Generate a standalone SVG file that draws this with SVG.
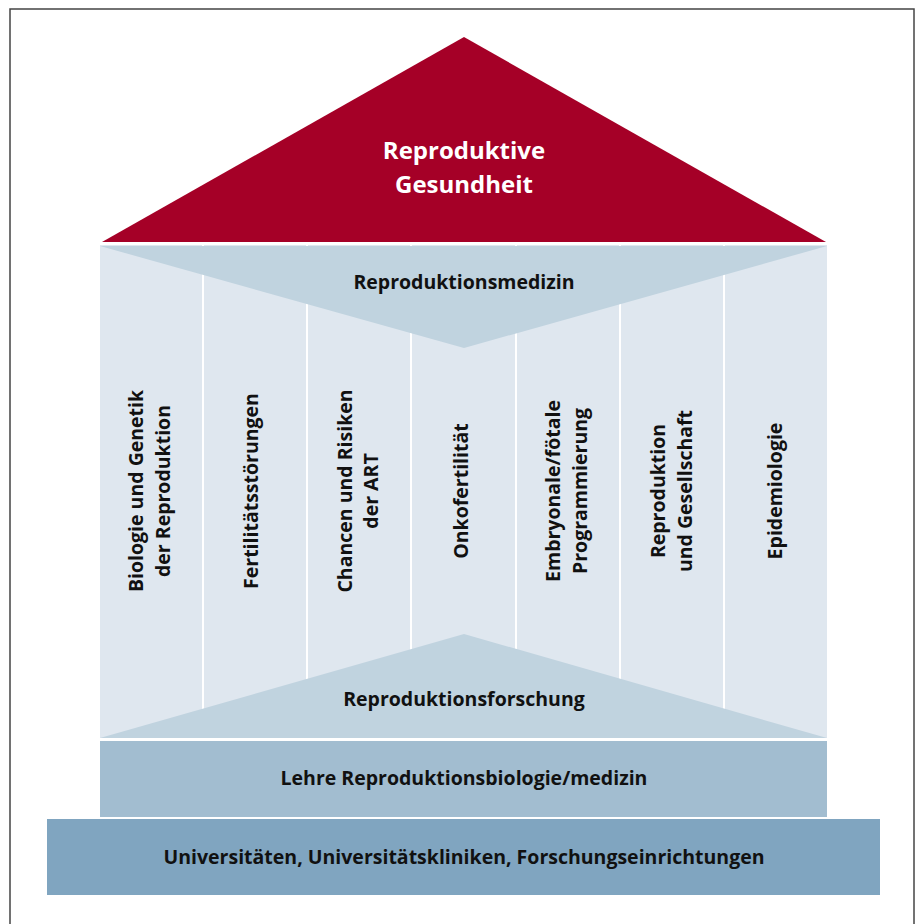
<svg xmlns="http://www.w3.org/2000/svg" width="920" height="924" viewBox="0 0 920 924">
<style>
.t{font-family:"Open Sans","Liberation Sans",sans-serif;font-weight:bold;fill:#111;text-anchor:middle}
.h{font-size:19.5px}
.v{font-size:19.5px}
.div{stroke:#fff;stroke-width:2}
</style>
<rect x="0" y="0" width="920" height="924" fill="#fff"/>
<rect x="10" y="9" width="904" height="930" fill="none" stroke="#444" stroke-width="1.5"/>
<g id="roof">
<polygon points="464,37 826,242 102,242" fill="#A50027"/>
<text class="t" x="464" y="159" font-size="24" style="fill:#fff">Reproduktive</text>
<text class="t" x="464" y="193" font-size="24" style="fill:#fff">Gesundheit</text>
</g>
<g id="columns">
<rect x="100" y="245" width="727" height="493" fill="#DFE7EF"/>
<line class="div" x1="203" y1="245" x2="203" y2="738"/>
<line class="div" x1="307" y1="245" x2="307" y2="738"/>
<line class="div" x1="411" y1="245" x2="411" y2="738"/>
<line class="div" x1="516" y1="245" x2="516" y2="738"/>
<line class="div" x1="620" y1="245" x2="620" y2="738"/>
<line class="div" x1="724" y1="245" x2="724" y2="738"/>
</g>
<g id="medizin">
<polygon points="100,246 827,246 464,348" fill="#C0D3DF"/>
<text class="t h" x="464" y="289">Reproduktionsmedizin</text>
</g>
<g id="forschung">
<polygon points="464,634 827,738 100,738" fill="#C0D3DF"/>
<text class="t h" x="464" y="706">Reproduktionsforschung</text>
</g>
<g id="col1"><text class="t v" transform="translate(143,491) rotate(-90)"><tspan x="0" y="0">Biologie und Genetik</tspan><tspan x="0" y="27">der Reproduktion</tspan></text></g>
<g id="col2"><text class="t v" transform="translate(258,491) rotate(-90)">Fertilitätsstörungen</text></g>
<g id="col3"><text class="t v" transform="translate(352,491) rotate(-90)"><tspan x="0" y="0">Chancen und Risiken</tspan><tspan x="0" y="26">der ART</tspan></text></g>
<g id="col4"><text class="t v" transform="translate(468,491) rotate(-90)">Onkofertilität</text></g>
<g id="col5"><text class="t v" transform="translate(560,491) rotate(-90)"><tspan x="0" y="0">Embryonale/fötale</tspan><tspan x="0" y="27">Programmierung</tspan></text></g>
<g id="col6"><text class="t v" transform="translate(665,491) rotate(-90)"><tspan x="0" y="0">Reproduktion</tspan><tspan x="0" y="27">und Gesellschaft</tspan></text></g>
<g id="col7"><text class="t v" transform="translate(782,491) rotate(-90)">Epidemiologie</text></g>
<g id="lehre">
<rect x="100" y="741" width="727" height="76" fill="#A2BDD0"/>
<text class="t h" x="464" y="785">Lehre Reproduktionsbiologie/medizin</text>
</g>
<g id="univ">
<rect x="47" y="819" width="833" height="76" fill="#80A5C0"/>
<text class="t h" x="464" y="864">Universitäten, Universitätskliniken, Forschungseinrichtungen</text>
</g>
<g id="connectors"></g>
</svg>
